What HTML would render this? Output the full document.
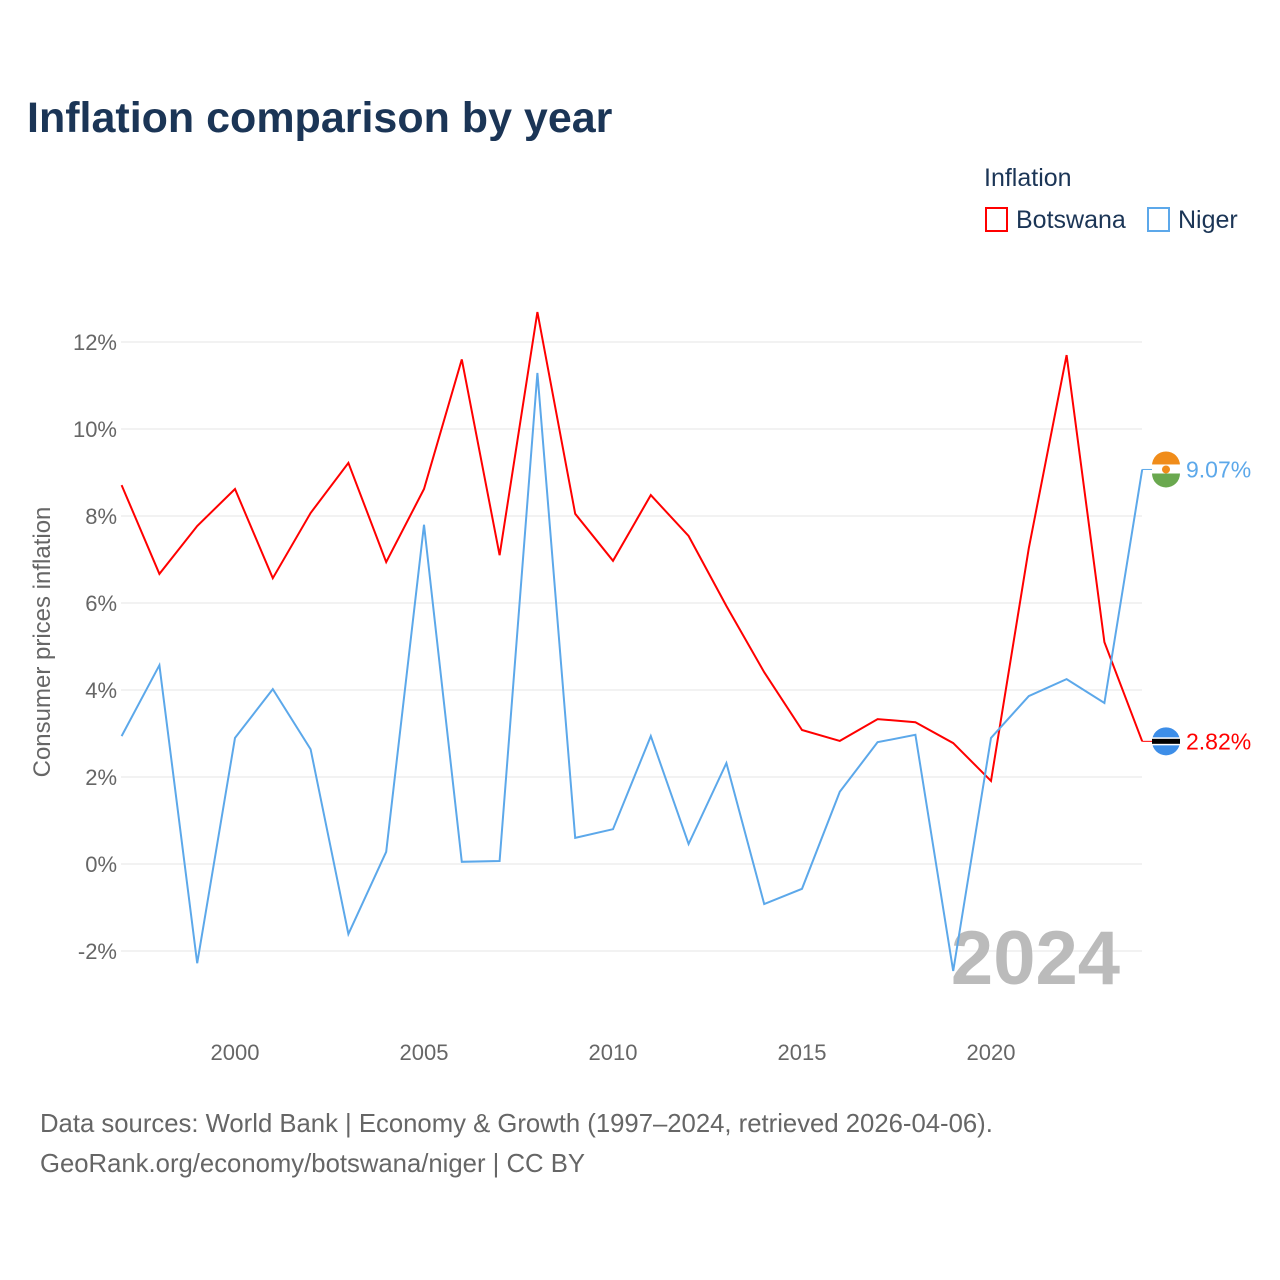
<!DOCTYPE html>
<html><head><meta charset="utf-8">
<style>
body{margin:0;background:#fff;font-family:"Liberation Sans",sans-serif;}
#wrap{position:relative;width:1280px;height:1280px;overflow:hidden;}
</style></head>
<body>
<div id="wrap">
<svg id="chart" width="1280" height="1280">
<text x="27" y="132" font-size="43" font-weight="bold" fill="#1b3556">Inflation comparison by year</text>
<text x="984" y="186" font-size="25" fill="#1b3556">Inflation</text>
<g>
<rect x="986" y="208" width="21" height="23" fill="none" stroke="#ff0000" stroke-width="2"/>
<text x="1016" y="228" font-size="25" fill="#1b3556">Botswana</text></g>
<g>
<rect x="1148" y="208" width="21" height="23" fill="none" stroke="#5ca8ea" stroke-width="2"/>
<text x="1178" y="228" font-size="25" fill="#1b3556">Niger</text></g>
<g id="grid"></g><g id="yt"></g><g id="xt"></g>
<text transform="translate(50,642) rotate(-90)" text-anchor="middle" font-size="24" fill="#666">Consumer prices inflation</text>
<text x="1120" y="984" text-anchor="end" font-size="76" font-weight="bold" fill="#bbb">2024</text>
<g id="series"></g>
<text x="40" y="1132" font-size="25.7" fill="#666">Data sources: World Bank | Economy &amp; Growth (1997–2024, retrieved 2026-04-06).</text>
<text x="40" y="1172" font-size="25.7" fill="#666">GeoRank.org/economy/botswana/niger | CC BY</text>
</svg>
</div>
<script>
const years=[1997,1998,1999,2000,2001,2002,2003,2004,2005,2006,2007,2008,2009,2010,2011,2012,2013,2014,2015,2016,2017,2018,2019,2020,2021,2022,2023,2024];
const botswana=[8.71,6.67,7.77,8.62,6.57,8.07,9.22,6.94,8.62,11.6,7.1,12.69,8.05,6.97,8.48,7.54,5.93,4.41,3.08,2.83,3.33,3.26,2.78,1.91,7.26,11.7,5.1,2.82];
const niger=[2.94,4.57,-2.28,2.9,4.02,2.64,-1.61,0.28,7.8,0.05,0.07,11.29,0.6,0.8,2.94,0.46,2.32,-0.92,-0.57,1.66,2.8,2.97,-2.46,2.9,3.86,4.25,3.7,9.07];
const yTicks=[-2,0,2,4,6,8,10,12];
const xTicks=[2000,2005,2010,2015,2020];
const NS="http://www.w3.org/2000/svg";
const X=v=>121.6+(v-1997)*37.8;
const Y=v=>864-v*43.5;
function mk(t,a,p){const e=document.createElementNS(NS,t);for(const k in a)e.setAttribute(k,a[k]);p.appendChild(e);return e;}
const grid=document.getElementById('grid'),yt=document.getElementById('yt'),xt=document.getElementById('xt'),ser=document.getElementById('series');
yTicks.forEach(v=>{
 const l=mk('line',{x1:121,x2:1142,y1:Y(v),y2:Y(v),stroke:'#e6e6e6','stroke-width':1},grid);
 
 
 const t=mk('text',{x:117,y:Y(v)+8,'text-anchor':'end','font-size':22,fill:'#666'},yt);
 t.textContent=v+'%';
 
 
});
xTicks.forEach(v=>{
 const t=mk('text',{x:X(v),y:1060,'text-anchor':'middle','font-size':22,fill:'#666'},xt);
 t.textContent=v;
 
 
});
function line(vals,color,name,flag){
 const d=vals.map((v,i)=>(i?'L':'M')+X(years[i]).toFixed(1)+','+Y(v).toFixed(1)).join('');
 const p=mk('path',{d:d,fill:'none',stroke:color,'stroke-width':2},ser);
 
 
 const last=vals[vals.length-1],ly=Y(last),lx=X(years[years.length-1]);
 mk('line',{x1:lx,x2:1152,y1:ly,y2:ly,stroke:color,'stroke-width':1},ser);
 const g=mk('g',{},ser);
 
 
 flag(g,1166,ly);
 const t=mk('text',{x:1186,y:ly+8,'font-size':23,fill:color},ser);
 t.textContent=last.toFixed(2)+'%';
 
 
}
line(botswana,'#ff0000','botswana',(g,cx,cy)=>{
 mk('circle',{cx:cx,cy:cy,r:14,fill:'#3d8ee8'},g);
 mk('rect',{x:cx-14,y:cy-4,width:28,height:8,fill:'#fff'},g);
 mk('rect',{x:cx-14,y:cy-2.5,width:28,height:5,fill:'#000'},g);
});
line(niger,'#5ca8ea','niger',(g,cx,cy)=>{
 mk('path',{d:`M${cx-14},${cy-4}A14,14 0 0 1 ${cx+14},${cy-4}Z`,fill:'#f08c1a'},g);
 mk('rect',{x:cx-14,y:cy-5,width:28,height:10,fill:'#fff'},g);
 mk('path',{d:`M${cx-14},${cy+4}A14,14 0 0 0 ${cx+14},${cy+4}Z`,fill:'#6aa84f'},g);
 mk('circle',{cx:cx,cy:cy,r:4,fill:'#f08c1a'},g);
});
</script>
</body></html>
